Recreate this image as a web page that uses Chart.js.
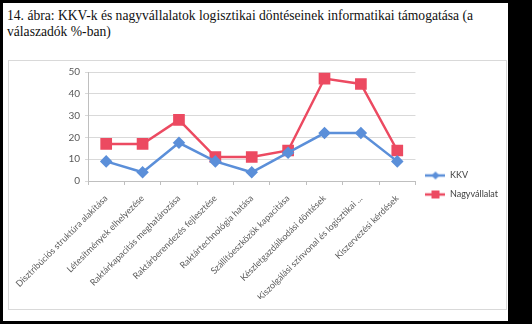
<!DOCTYPE html>
<html>
<head>
<meta charset="utf-8">
<script src="https://cdn.jsdelivr.net/npm/chart.js@4"></script>
<style>
  body { margin: 0; background: #000; width: 532px; height: 324px; overflow: hidden; }
  #page { position: absolute; left: 3px; top: 3px; width: 505px; height: 318px; background: #fff; }
  #title { position: absolute; left: 4px; top: 5px; width: 490px; font-family: "Liberation Serif", serif; font-size: 13.6px; line-height: 16px; color: #111; }
  #box { position: absolute; left: 5px; top: 57px; width: 497px; height: 248px; border: 1px solid #d9d9d9; }
  canvas { display: block; }
</style>
</head>
<body>
<div id="page">
  <div id="title">14. ábra: KKV-k és nagyvállalatok logisztikai döntéseinek informatikai támogatása (a válaszadók %-ban)</div>
  <div id="box"><canvas id="chart" width="497" height="248"></canvas></div>
</div>
<script>
// adatok
const categories = [
  "Disztribúciós struktúra alakítása",
  "Létesítmények elhelyezése",
  "Raktárkapacitás meghatározása",
  "Raktárberendezés fejlesztése",
  "Raktártechnológia hatása",
  "Szállítóeszközök kapacitása",
  "Készletgazdálkodási döntések",
  "Kiszolgálási színvonal és logisztikai ...",
  "Kiszervezési kérdések"
];
const kkvValues = [9, 4, 17.5, 9, 4, 13, 22, 22, 9];
const nagyValues = [17, 17, 28, 11, 11, 14, 47, 44.5, 14];
const yMin = 0;
const yMax = 50;
const yStep = 5;

const blue = "#5b8fd9";
const red = "#ec4a61";

// legend icon: line with marker in the middle
function legendIcon(color, style) {
  const c = document.createElement("canvas");
  c.width = 20;
  c.height = 12;
  const ctx = c.getContext("2d");
  ctx.strokeStyle = color;
  ctx.fillStyle = color;
  ctx.lineWidth = 2.5;
  ctx.beginPath();
  ctx.moveTo(0, 6);
  ctx.lineTo(20, 6);
  ctx.stroke();
  if (style === "diamond") {
    ctx.beginPath();
    ctx.moveTo(10, 2);
    ctx.lineTo(14, 6);
    ctx.lineTo(10, 10);
    ctx.lineTo(6, 6);
    ctx.closePath();
    ctx.fill();
  } else {
    ctx.fillRect(6, 2, 8, 8);
  }
  return c;
}

const icons = [legendIcon(blue, "diamond"), legendIcon(red, "square")];

new Chart(document.getElementById("chart"), {
  type: "line",
  data: {
    labels: categories,
    datasets: [
      {
        label: "KKV",
        data: kkvValues,
        borderColor: blue,
        backgroundColor: blue,
        borderWidth: 2.5,
        pointStyle: "rectRot",
        pointRadius: 4.5,
        pointHoverRadius: 4.5,
        tension: 0
      },
      {
        label: "Nagyvállalat",
        data: nagyValues,
        borderColor: red,
        backgroundColor: red,
        borderWidth: 2.5,
        pointStyle: "rect",
        pointRadius: 6.5,
        pointHoverRadius: 6.5,
        tension: 0
      }
    ]
  },
  options: {
    responsive: false,
    animation: false,
    devicePixelRatio: 1,
    layout: { padding: { top: 10, left: 0, right: -2, bottom: 10 } },
    plugins: {
      tooltip: { enabled: false },
      legend: {
        position: "right",
        labels: {
          usePointStyle: true,
          pointStyleWidth: 20,
          padding: 10,
          color: "#404040",
          font: { family: "Lato", size: 9 },
          generateLabels: chart => chart.data.datasets.map((ds, i) => ({
            text: ds.label,
            pointStyle: icons[i],
            fillStyle: ds.borderColor,
            strokeStyle: ds.borderColor,
            lineWidth: 0,
            fontColor: "#404040",
            hidden: false,
            datasetIndex: i
          }))
        }
      }
    },
    scales: {
      x: {
        offset: true,
        grid: { offset: true, drawOnChartArea: false, drawTicks: true, tickLength: 4, color: "#bfbfbf" },
        border: { color: "#bfbfbf" },
        ticks: {
          autoSkip: false,
          minRotation: 45,
          maxRotation: 45,
          padding: 8,
          color: "#595959",
          font: { family: "Lato", size: 9 }
        },
        afterFit: scale => {
          scale.height = 118;
          scale.paddingLeft = 0;
          scale.paddingRight = 0;
        }
      },
      y: {
        min: yMin,
        max: yMax,
        grid: { color: "#d9d9d9", tickLength: 3, drawTicks: true },
        border: { color: "#bfbfbf" },
        ticks: {
          stepSize: yStep,
          padding: 5,
          color: "#595959",
          font: { family: "Lato", size: 10 }
        },
        afterFit: scale => { scale.width = 79; }
      }
    }
  }
});
</script>
</body>
</html>
